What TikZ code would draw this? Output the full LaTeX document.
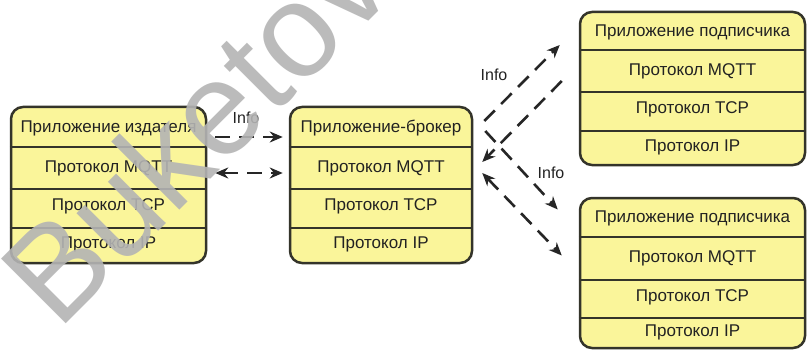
\documentclass[tikz,border=0pt]{standalone}
\usepackage{fontspec}
\setmainfont{Liberation Sans}
\usetikzlibrary{arrows.meta}
\definecolor{boxfill}{HTML}{FAF59A}
\definecolor{boxline}{HTML}{34342A}
\definecolor{txt}{HTML}{222222}
\definecolor{wmgray}{HTML}{B4B4B4}
\tikzset{
  frame/.style={draw=boxline, fill=boxfill, line width=2.5pt, rounded corners=12pt, inner sep=0pt},
  rowtext/.style={inner sep=0pt, text=txt, font=\fontsize{17}{20}\selectfont},
  sepline/.style={draw=boxline, line width=2.5pt},
  flow/.style={draw=black!85, line width=2.6pt, dash pattern=on 15pt off 9pt},
  tip/.style={-{Stealth[length=13pt,width=11pt]}},
  tips/.style={{Stealth[length=13pt,width=11pt]}-{Stealth[length=13pt,width=11pt]}},
  lbl/.style={inner sep=0pt, text=txt, font=\fontsize{16}{18}\selectfont},
  wm/.style={inner sep=0pt, text=wmgray, opacity=0.9, font=\fontsize{133}{133}\selectfont}
}
\newcommand\stackbox[9]{%
  \node[frame, minimum width={(#3-#2)*1pt}, minimum height={(#8-#4)*1pt}] (#1) at ({(#2+#3)/2},{(#4+#8)/2}) {};
  \node[rowtext, minimum width={(#3-#2)*1pt}, minimum height={(#5-#4)*1pt}] (#1-1) at ({(#2+#3)/2},{(#4+#5)/2+1}) {#9};
  \node[rowtext, minimum width={(#3-#2)*1pt}, minimum height={(#6-#5)*1pt}] (#1-2) at ({(#2+#3)/2},{(#5+#6)/2}) {Протокол MQTT};
  \node[rowtext, minimum width={(#3-#2)*1pt}, minimum height={(#7-#6)*1pt}] (#1-3) at ({(#2+#3)/2},{(#6+#7)/2-2}) {Протокол TCP};
  \node[rowtext, minimum width={(#3-#2)*1pt}, minimum height={(#8-#7)*1pt}] (#1-4) at ({(#2+#3)/2},{(#7+#8)/2-1}) {Протокол IP};
  \draw[sepline] (#1.west |- 0,#5) -- (#1.east |- 0,#5);
  \draw[sepline] (#1.west |- 0,#6) -- (#1.east |- 0,#6);
  \draw[sepline] (#1.west |- 0,#7) -- (#1.east |- 0,#7);
}
\begin{document}
\begin{tikzpicture}[x=1pt, y=-1pt]
\useasboundingbox (0,0) rectangle (808,350);
\fill[white] (0,0) rectangle (808,350);

\stackbox{pub}{11}{206}{107}{147}{189}{228}{263}{Приложение издателя}
\stackbox{brk}{290}{472}{107}{147}{189}{228}{263}{Приложение-брокер}
\stackbox{subA}{580}{805}{12}{50}{92}{131}{165}{Приложение подписчика}
\stackbox{subB}{580}{805}{198}{237}{280}{318}{348}{Приложение подписчика}

% publisher <-> broker
\draw[flow, tip] ([shift={(8,9)}]pub.east |- pub-1.center) -- ([shift={(-6,9)}]brk.west |- brk-1.center);
\draw[flow, tips] ([shift={(8,5)}]pub.east |- pub-2.center) -- ([shift={(-6,5)}]brk.west |- brk-2.center);
\node[lbl] (infoA) at (246,118) {Info};

% broker <-> subscriber A
\draw[flow, tip] ([shift={(11,-7)}]brk.east |- brk-1.center) -- ([shift={(-19,13)}]subA.west |- subA-1.center);
\draw[flow, tip] ([shift={(-17,10)}]subA.west |- subA-2.center) -- ([shift={(9,-6)}]brk.east |- brk-2.center);
\node[lbl] (infoB) at (494,75) {Info};

% broker <-> subscriber B
\draw[flow, tip] ([shift={(12,3)}]brk.east |- brk-1.center) -- ([shift={(-21,-9)}]subB.west |- subB-1.center);
\draw[flow, tips] ([shift={(9,5)}]brk.east |- brk-2.center) -- ([shift={(-17,-3)}]subB.west |- subB-2.center);
\node[lbl] (infoC) at (551,173) {Info};

% watermark
\node[wm, rotate=45, anchor=base west] (mark) at (58,332) {Buketov};
\end{tikzpicture}
\end{document}
